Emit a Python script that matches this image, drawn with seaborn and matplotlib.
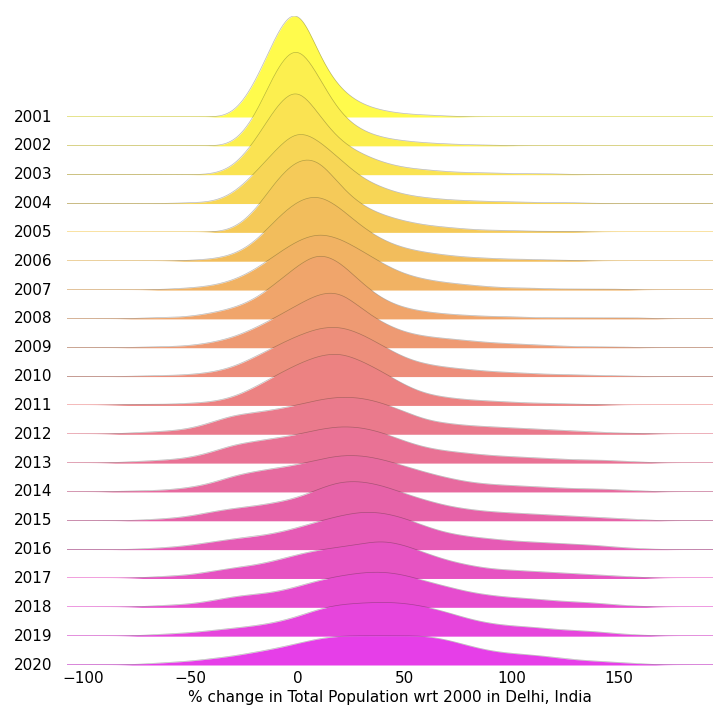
import numpy as np
import seaborn as sns
import matplotlib.pyplot as plt
from matplotlib.colors import LinearSegmentedColormap

years = list(range(2001, 2021))
# % change bins (-100 ... 190, step 10) and number of wards in each bin, per year
change_bins = list(range(-100, 200, 10))
c2001 = [0,0,0,0,0,0,0, 0,30,82, 122,58,26,12,6,3,2,1, 0,0,0,0,0,0,0,0,0,0,0,0]
c2002 = [0,0,0,0,0,0,0, 0,26,80, 112,70,31,15,8,5,3,2,1,1, 0,0,0,0,0,0,0,0,0,0]
c2003 = [0,0,0,0,0,0, 0,6,32,70, 95,60,33,21,12,7,5,3,2,2,1,1,1, 0,0,0,0,0,0,0]
c2004 = [0,0,0,0,0, 1,1,9,31,56, 80,66,46,26,16,9,6,4,3,2,2,1,1,1, 0,0,0,0,0,0]
c2005 = [0,0,0,0,0,0, 0,2,19,52, 74,75,45,26,17,11,7,5,3,2,2,1,1,1, 0,0,0,0,0,0]
c2006 = [0,0,0,0,0, 1,2,6,18,43, 63,70,55,35,21,13,9,6,4,3,2,2,1,1, 0,0,0,0,0,0]
c2007 = [0,0,0,0, 1,2,4,9,19,34, 48,56,50,38,25,15,10,7,5,3,2,2,1,1,1,1, 0,0,0,0]
c2008 = [0,0,0, 1,1,2,5,9,16,30, 45,58,49,30,16,9,6,4,3,2,2,1,1,1,1,1,1, 0,0,0]
c2009 = [0,0,0, 1,1,2,5,10,19,30, 42,54,57,38,24,15,11,9,7,5,4,3,2,1,1,1, 0,0,0,0]
c2010 = [0,0,0, 1,1,2,4,9,19,30, 40,48,50,42,30,18,12,9,7,5,4,3,2,2,1,1, 0,0,0,0]
c2011 = [0,0, 1,1,1,2,3,7,16,27, 37,45,48,40,30,18,10,7,5,4,3,2,2,1,1, 0,0,0,0,0]
c2012 = [0,0, 1,2,3,5,11,18,20,23, 27,32,35,34,29,21,13,10,8,7,6,5,4,3,2,1,1, 0,0,0]
c2013 = [0,0, 1,2,3,5,10,17,20,23, 26,31,34,33,28,20,14,11,9,7,6,5,4,3,3,2,1, 0,0,0]
c2014 = [0,0, 1,1,2,4,8,15,19,22, 25,30,34,34,30,24,18,13,9,7,6,5,4,3,3,2,1, 0,0,0]
c2015 = [0,0,0, 1,2,4,8,11,13,16, 20,28,35,35,31,24,18,13,10,8,7,6,5,4,3,2,1, 0,0,0]
c2016 = [0,0,0, 1,2,4,7,10,12,15, 20,26,31,35,34,29,21,15,12,10,8,7,6,5,4,2,1, 0,0,0]
c2017 = [0,0,0, 1,2,3,6,9,11,15, 20,24,26,29,32,28,21,15,11,8,7,6,5,4,3,2,1, 0,0,0]
c2018 = [0,0,0, 1,2,3,6,10,12,14, 19,25,29,32,33,30,24,19,14,11,9,8,6,5,4,2,1, 0,0,0]
c2019 = [0,0,0, 1,2,3,5,7,9,12, 17,24,28,29,30,29,26,21,15,11,9,8,6,5,4,2,1, 0,0,0]
c2020 = [0,0,0, 1,2,3,5,7,10,13, 17,21,23,23,23,23,23,20,15,11,9,8,6,4,3,2,1, 0,0,0]
counts = [c2001, c2002, c2003, c2004, c2005, c2006, c2007, c2008, c2009, c2010,
          c2011, c2012, c2013, c2014, c2015, c2016, c2017, c2018, c2019, c2020]

sns.set_theme(style="white")
plt.rcParams['font.family'] = ['DejaVu Sans']

cmap = LinearSegmentedColormap.from_list(
    "ridge", [(0, "#fffb4c"), (5/19, "#f2bd5c"), (10/19, "#ec8282"),
              (14/19, "#e662a8"), (1, "#e63ee8")])
colors = [cmap(i / 19) for i in range(20)]

fig = plt.figure(figsize=(7.2, 7.2), dpi=100)
xmin, xmax = -107.5, 194
left, width = 67 / 720, 646 / 720
axh = 101 / 720
step = 548 / 19

axes = []
for i, (yr, w) in enumerate(zip(years, counts)):
    base = 117 + i * step
    ax = fig.add_axes([left, (720 - base) / 720, width, axh])
    ax.set_facecolor("none")
    # fixed smoothing width of ~7 percentage points
    bw = 7 / np.sqrt(np.cov(change_bins, aweights=w))
    sns.kdeplot(x=change_bins, weights=w, bw_method=bw, fill=True, color=colors[i],
                alpha=1, linewidth=0, clip=(xmin, xmax), gridsize=500, ax=ax)
    sns.kdeplot(x=change_bins, weights=w, bw_method=bw, color="k", alpha=0.3,
                linewidth=0.5, clip=(xmin, xmax), gridsize=500, ax=ax)
    ax.axhline(0, color=colors[i], lw=1.3, alpha=0.6, zorder=0)
    ax.axhline(0, color="grey", lw=0.6, alpha=0.35, zorder=0)
    ax.set_xlim(xmin, xmax)
    ax.set_ylabel("")
    ax.set_yticks([])
    for s in ax.spines.values():
        s.set_visible(False)
    ax.text(-0.022, 0, str(yr), transform=ax.get_yaxis_transform(),
            ha="right", va="center", fontsize=11, color="black")
    axes.append(ax)

ymax = axes[0].dataLim.y1
for ax in axes:
    ax.set_ylim(0, ymax)
for ax in axes[:-1]:
    ax.set_xticks([])
    ax.set_xlabel("")

last = axes[-1]
last.set_xticks([-100, -50, 0, 50, 100, 150])
last.tick_params(axis="x", length=0, pad=4, labelsize=11, labelcolor="black")
last.set_xlabel("% change in Total Population wrt 2000 in Delhi, India",
                fontsize=11, labelpad=3, color="black")

fig.savefig("out.png", dpi=100, facecolor="white")
